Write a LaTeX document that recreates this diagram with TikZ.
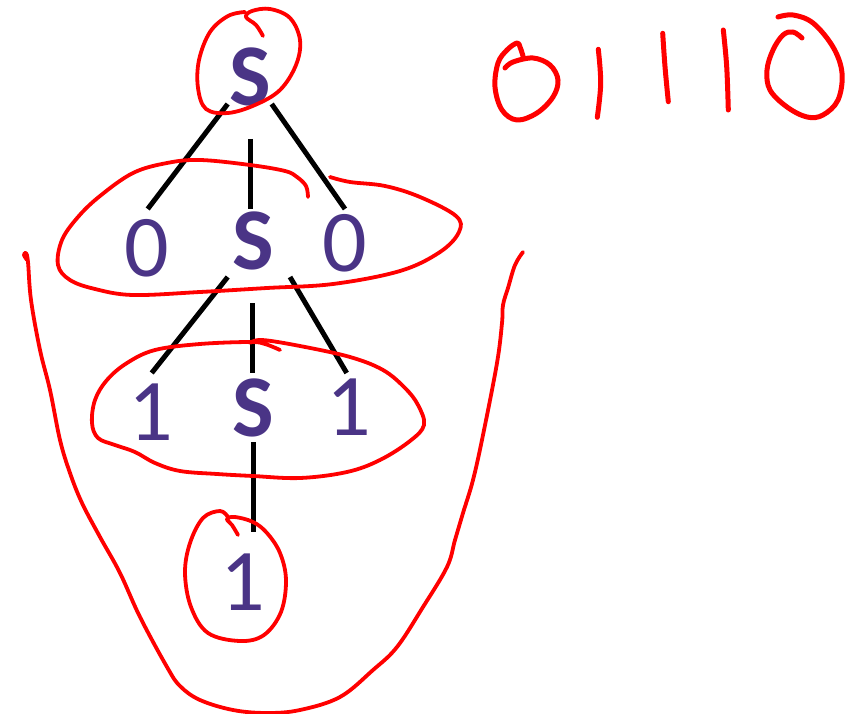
\documentclass[tikz,border=0pt]{standalone}
\usepackage{fontspec}
\setmainfont{Carlito}
\definecolor{treepurple}{RGB}{74,52,134}
\definecolor{inkred}{RGB}{255,0,0}
\tikzset{
  sym/.style={text=treepurple, font=\fontsize{88}{90}\selectfont, inner sep=0pt, anchor=base},
  nterm/.style={sym, font=\fontsize{88}{90}\selectfont\bfseries},
  treeedge/.style={line width=5pt, black},
  ink/.style={inkred, line width=3.8pt, line cap=round, line join=round},
  inkbold/.style={ink, line width=5pt}
}
\begin{document}
\begin{tikzpicture}[x=1pt,y=-1pt]
\useasboundingbox (0,0) rectangle (859,714);

% tree symbols
\node[nterm] (s1) at (250,106) {S};
\node[sym]   (z1) at (147,276) {0};
\node[nterm] (s2) at (253,269) {S};
\node[sym]   (z2) at (345,271) {0};
\node[sym]   (o1) at (151,440) {1};
\node[nterm] (s3) at (253,436) {S};
\node[sym]   (o2) at (349,435) {1};
\node[sym]   (o3) at (243,610) {1};

% connector end points
\coordinate (s1l) at (227.7,104);
\coordinate (s1m) at (250,139);
\coordinate (s1r) at (271.7,104);
\coordinate (z1t) at (147.7,209);
\coordinate (s2t) at (250,209);
\coordinate (z2t) at (345,209);
\coordinate (s2l) at (227.7,277);
\coordinate (s2m) at (252.7,303);
\coordinate (s2r) at (290,277);
\coordinate (o1t) at (151.7,373);
\coordinate (s3t) at (252.7,373);
\coordinate (o2t) at (346.7,373);
\coordinate (s3b) at (253,442);
\coordinate (o3t) at (253,532);

\draw[treeedge] (s1l) -- (z1t);
\draw[treeedge] (s1m) -- (s2t);
\draw[treeedge] (s1r) -- (z2t);
\draw[treeedge] (s2l) -- (o1t);
\draw[treeedge] (s2m) -- (s3t);
\draw[treeedge] (s2r) -- (o2t);
\draw[treeedge] (s3b) -- (o3t);

% red annotations
% circle around top S
\draw[ink] plot[smooth, tension=0.6] coordinates {(263,36) (256,25) (246,17) (252,11) (270,9) (290,18) (300,40) (296,65) (280,90) (255,105) (228,113) (206,109) (198,88) (199,60) (210,32) (228,16) (245,12)};
% ellipse around row 2
\draw[ink] plot[smooth, tension=0.6] coordinates {(308,197) (306,186) (297,177) (285,171) (250,165) (200,160) (167,163) (133,173) (100,196) (78,217) (62,240) (58,265) (70,280) (95,289) (133,295) (200,292) (267,288) (333,284) (400,271) (440,252) (459,232) (456,216) (420,197) (385,186) (350,182) (330,177)};
% ellipse around row 3
\draw[ink] plot[smooth, tension=0.6] coordinates {(280,350) (265,344) (250,342) (200,344) (155,350) (127,363) (107,380) (95,400) (92,423) (98,438) (115,445) (135,452) (155,463) (180,471) (217,474) (253,476) (300,478) (347,472) (380,460) (410,441) (424,425) (418,405) (405,388) (383,370) (350,357) (300,346) (262,340) (250,343)};
% circle around bottom 1
\draw[ink] plot[smooth, tension=0.6] coordinates {(238,535) (232,525) (227,519) (235,517) (253,522) (267,533) (280,553) (286,580) (281,612) (264,635) (240,641) (208,633) (191,607) (185,573) (190,543) (203,518) (220,511) (228,517)};
% big cup
\draw[ink] plot[smooth, tension=0.6] coordinates {(27,260) (24,255) (26,253) (28,262) (31,300) (40,350) (50,390) (60,440) (70,473) (82,503) (100,537) (120,573) (140,617) (167,667) (180,686) (200,700) (233,710) (267,713) (300,710) (340,697) (373,670) (397,647) (423,607) (447,567) (455,540) (463,513) (473,480) (483,435) (497,363) (502,323) (503,305) (508,288) (515,265) (523,252)};

% handwritten 01110
\draw[inkbold] plot[smooth, tension=0.6] coordinates {(505,68) (513,62) (533,58) (550,65) (558,80) (553,97) (537,113) (517,120) (502,110) (495,87) (498,63) (507,50) (517,43) (520,47) (523,56)};
\draw[inkbold] plot[smooth, tension=0.6] coordinates {(598.3,49.3) (600.7,83.3) (597.3,117.3)};
\draw[inkbold] plot[smooth, tension=0.6] coordinates {(662.7,33.3) (665,66.7) (668.3,101.7)};
\draw[inkbold] plot[smooth, tension=0.6] coordinates {(723.3,30) (726.7,66.7) (728.3,110)};
\draw[inkbold] plot[smooth, tension=0.6] coordinates {(778,17) (793,15) (813,23) (833,47) (842,73) (838,100) (823,115) (807,117) (787,107) (770,90) (767,70) (773,50) (783,35) (793,32) (802,38)};
\end{tikzpicture}
\end{document}
